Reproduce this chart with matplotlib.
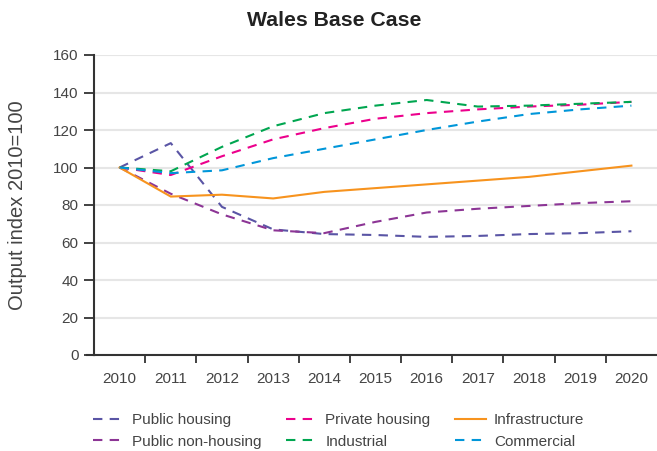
import matplotlib
matplotlib.use('Agg')
import matplotlib.pyplot as plt

plt.rcParams['font.family'] = ['Liberation Sans', 'DejaVu Sans']

# Data
years = ['2010', '2011', '2012', '2013', '2014', '2015', '2016', '2017', '2018', '2019', '2020']
public_housing = [100, 113, 79, 67, 64.5, 64, 63, 63.5, 64.5, 65, 66]
public_non_housing = [100, 86, 75, 66.5, 65, 71, 76, 78, 79.5, 81, 82]
private_housing = [100, 96, 106, 115, 121, 126, 129, 131, 132.5, 133.5, 135]
industrial = [100, 98, 111, 122, 129, 133, 136, 132.5, 133, 134, 135]
infrastructure = [100, 84.5, 85.5, 83.5, 87, 89, 91, 93, 95, 98, 101]
commercial = [100, 97, 98.5, 105, 110, 115, 120, 124.5, 128.5, 131, 133]

series = [
    ('Public housing', public_housing, '#5a55a5', True),
    ('Public non-housing', public_non_housing, '#8c3595', True),
    ('Private housing', private_housing, '#ec008c', True),
    ('Industrial', industrial, '#00a650', True),
    ('Infrastructure', infrastructure, '#f7931e', False),
    ('Commercial', commercial, '#0096d9', True),
]

text_col = '#444444'

fig = plt.figure(figsize=(6.57, 4.51), dpi=100)
ax = fig.add_axes([94 / 657, 96 / 451, 563 / 657, 300 / 451])

x = list(range(len(years)))
for name, vals, col, dashed in series:
    if dashed:
        ax.plot(x, vals, color=col, lw=1.5, dashes=(4.5, 3.5), label=name)
    else:
        ax.plot(x, vals, color=col, lw=1.5, label=name)

ax.set_xlim(-0.5, 10.5)
ax.set_ylim(0, 160)
ax.set_yticks(range(0, 161, 20))
ax.set_xticks(x)
ax.set_xticklabels(years)
ax.set_xticks([i + 0.5 for i in range(10)], minor=True)
ax.tick_params(axis='x', which='major', length=0, pad=12, labelsize=11, labelcolor=text_col)
ax.tick_params(axis='x', which='minor', length=6, width=1.3, color='#333333', direction='out')
ax.tick_params(axis='y', length=7, width=1.3, color='#333333', pad=4, labelsize=11, labelcolor=text_col)

ax.grid(axis='y', color='#e6e6e6', lw=1.5)
ax.set_axisbelow(True)
for s in ['top', 'right']:
    ax.spines[s].set_visible(False)
for s in ['left', 'bottom']:
    ax.spines[s].set_color('#333333')
    ax.spines[s].set_linewidth(1.5)
# bottom axis line runs a little past the y axis, as in the reference
ax.plot([-7 / 563, 0], [0, 0], transform=ax.transAxes, color='#333333', lw=1.5, clip_on=False)

ax.set_ylabel('Output index 2010=100', fontsize=14.5, color=text_col, labelpad=19)
fig.text(0.508, 0.955, 'Wales Base Case', ha='center', va='center',
         fontsize=15.3, fontweight='bold', color='#222222')

fig.legend(loc='upper left', bbox_to_anchor=(93 / 657, 1 - 413 / 451), ncol=3,
           frameon=False, fontsize=11, handlelength=2.0, handletextpad=0.55,
           columnspacing=1.62, labelspacing=0.5, borderpad=0, borderaxespad=0,
           labelcolor=text_col)

fig.savefig('out.png', dpi=100)
